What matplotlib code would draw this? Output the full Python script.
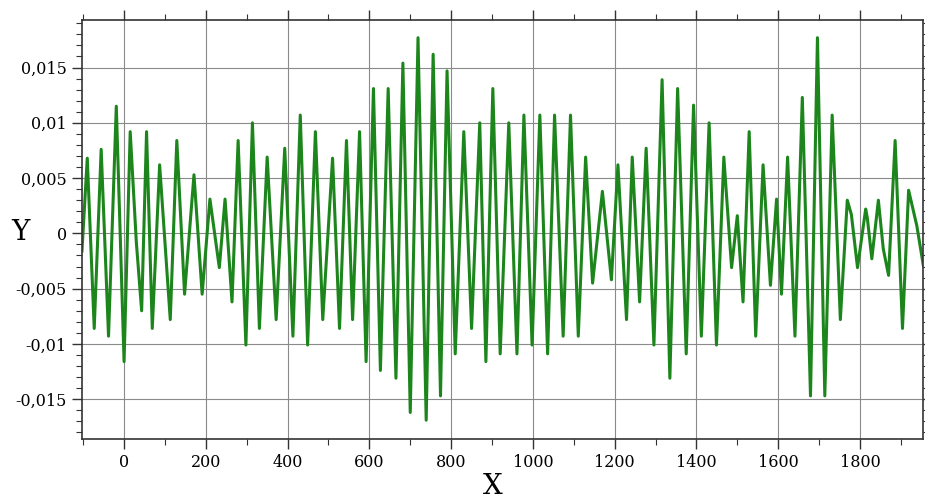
import numpy as np
import matplotlib
matplotlib.use("Agg")
import matplotlib.pyplot as plt
from matplotlib.ticker import MultipleLocator

# extrema of the signal (x, y)
x_pts = [-103, -90, -73, -56, -38, -19, 0, 15, 30, 43,
         55, 69, 87, 113, 129, 148, 171, 191, 210, 233,
         247, 264, 279, 298, 314, 331, 350, 372, 393, 413,
         431, 449, 468, 486, 510, 527, 544, 559, 576, 592,
         610, 627, 646, 665, 682, 700, 719, 739, 756, 774,
         790, 810, 831, 850, 870, 885, 902, 920, 941, 961,
         978, 998, 1017, 1036, 1053, 1074, 1092, 1111, 1129, 1146,
         1170, 1192, 1208, 1229, 1243, 1261, 1277, 1296, 1316, 1335,
         1354, 1375, 1393, 1412, 1431, 1449, 1467, 1486, 1500, 1514,
         1529, 1545, 1563, 1581, 1596, 1608, 1623, 1641, 1659, 1679,
         1696, 1714, 1732, 1752, 1769, 1779, 1794, 1814, 1818, 1829,
         1845, 1857, 1870, 1886, 1904, 1919, 1939, 1955]
y_pts = [-0.0016, 0.0068, -0.0086, 0.0076, -0.0093, 0.0115, -0.0116, 0.0092, -0.0008, -0.0070,
         0.0092, -0.0086, 0.0062, -0.0078, 0.0084, -0.0055, 0.0053, -0.0055, 0.0031, -0.0031,
         0.0031, -0.0062, 0.0084, -0.0101, 0.0100, -0.0086, 0.0069, -0.0078, 0.0077, -0.0093,
         0.0107, -0.0101, 0.0092, -0.0078, 0.0068, -0.0086, 0.0084, -0.0078, 0.0092, -0.0116,
         0.0131, -0.0124, 0.0131, -0.0131, 0.0154, -0.0162, 0.0177, -0.0169, 0.0162, -0.0147,
         0.0147, -0.0109, 0.0092, -0.0086, 0.0100, -0.0116, 0.0131, -0.0109, 0.0100, -0.0109,
         0.0107, -0.0101, 0.0107, -0.0109, 0.0107, -0.0093, 0.0107, -0.0093, 0.0069, -0.0045,
         0.0038, -0.0042, 0.0062, -0.0078, 0.0069, -0.0062, 0.0077, -0.0101, 0.0139, -0.0131,
         0.0131, -0.0109, 0.0116, -0.0093, 0.0100, -0.0101, 0.0069, -0.0031, 0.0016, -0.0062,
         0.0092, -0.0093, 0.0062, -0.0047, 0.0031, -0.0055, 0.0069, -0.0093, 0.0123, -0.0147,
         0.0177, -0.0147, 0.0107, -0.0078, 0.0030, 0.0017, -0.0031, 0.0022, 0.0014, -0.0023,
         0.0030, -0.0014, -0.0038, 0.0084, -0.0086, 0.0039, 0.0007, -0.0029]

x_ticks = [0, 200, 400, 600, 800, 1000, 1200, 1400, 1600, 1800]
y_ticks = [-0.015, -0.01, -0.005, 0, 0.005, 0.01, 0.015]
y_tick_labels = ['-0,015', '-0,01', '-0,005', '0', '0,005', '0,01', '0,015']

plt.rcParams['font.family'] = ['DejaVu Serif']

fig = plt.figure(figsize=(9.25, 5), dpi=100)
ax = fig.add_axes([0.0886, 0.122, 0.9096, 0.838])

ax.plot(x_pts, y_pts, color='#1c861c', lw=2.2)

ax.set_xlim(-103, 1955)
ax.set_ylim(-0.0186, 0.0193)
ax.set_xticks(x_ticks)
ax.set_yticks(y_ticks)
ax.set_yticklabels(y_tick_labels)
ax.xaxis.set_minor_locator(MultipleLocator(100))
ax.yaxis.set_minor_locator(MultipleLocator(0.001))

ax.grid(True, which='major', color='#8a8a8a', lw=0.8)
ax.set_axisbelow(True)
ax.tick_params(which='both', direction='out', top=True, right=True,
               labelsize=11.5, color='#333333')
ax.tick_params(which='major', length=7, width=1, pad=4)
ax.tick_params(which='minor', length=4, width=0.8)
for s in ax.spines.values():
    s.set_color('#333333')
    s.set_linewidth(1.2)

# axis names placed as in the reference
fig.text(493 / 925, 1 - 487 / 500, 'X', fontsize=20, ha='center', va='center')
fig.text(20 / 925, 1 - 233 / 500, 'Y', fontsize=20, ha='center', va='center')

fig.savefig('out.png', dpi=100)
